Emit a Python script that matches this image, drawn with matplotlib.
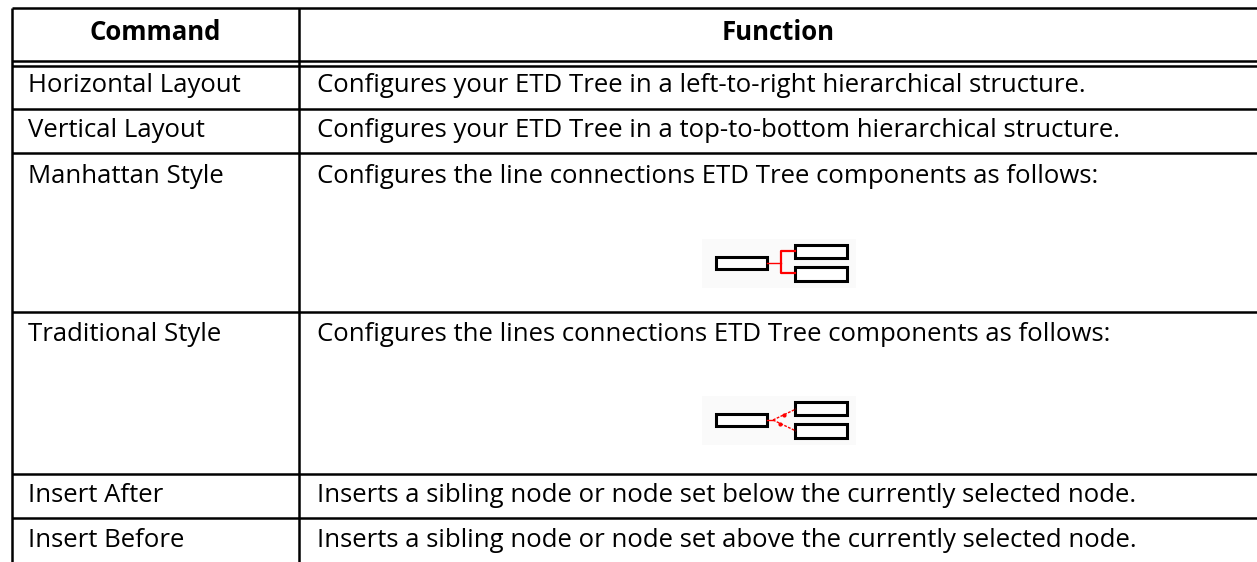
import matplotlib.pyplot as plt
from matplotlib.patches import Rectangle

# table content
headers = ["Command", "Function"]
commands = ["Horizontal Layout", "Vertical Layout", "Manhattan Style",
            "Traditional Style", "Insert After", "Insert Before"]
functions = [
    "Configures your ETD Tree in a left-to-right hierarchical structure.",
    "Configures your ETD Tree in a top-to-bottom hierarchical structure.",
    "Configures the line connections ETD Tree components as follows:",
    "Configures the lines connections ETD Tree components as follows:",
    "Inserts a sibling node or node set below the currently selected node.",
    "Inserts a sibling node or node set above the currently selected node.",
]

W, H = 1257, 562
fig = plt.figure(figsize=(W / 100, H / 100), dpi=100)
ax = fig.add_axes([0, 0, 1, 1])
ax.set_xlim(0, W)
ax.set_ylim(H, 0)
ax.axis('off')

plt.rcParams['font.family'] = ['Open Sans', 'DejaVu Sans']
fs = 18.5
lw = 1.8

# grid (pixel layout)
x_left, x_mid, x_right = 11.5, 299, 1258
y_top = 8
row_lines = [109, 153, 312, 474, 518]
ax.hlines(y_top, x_left, x_right, color='black', lw=lw)
ax.hlines([61, 66], x_left, x_right, color='black', lw=lw)
ax.hlines(row_lines, x_left, x_right, color='black', lw=lw)
ax.vlines([x_left, x_mid], y_top, H + 5, color='black', lw=lw)

# header
ax.text((x_left + x_mid) / 2, 40, headers[0], ha='center', va='baseline',
        fontsize=fs, fontweight='bold')
ax.text((x_mid + x_right) / 2, 40, headers[1], ha='center', va='baseline',
        fontsize=fs, fontweight='bold')

# rows
baselines = [92, 137, 183, 341, 502, 547]
for cmd, func, yb in zip(commands, functions, baselines):
    ax.text(28, yb, cmd, ha='left', va='baseline', fontsize=fs)
    ax.text(317, yb, func, ha='left', va='baseline', fontsize=fs)


# little tree icons
def tree_icon(x0, y0, style):
    ax.add_patch(Rectangle((x0, y0), 154, 49, facecolor='#fafafa', edgecolor='none'))
    bx = dict(facecolor='white', edgecolor='black', lw=2.2)
    ax.add_patch(Rectangle((x0 + 14, y0 + 18), 51, 12, **bx))
    ax.add_patch(Rectangle((x0 + 93, y0 + 6), 52, 13, **bx))
    ax.add_patch(Rectangle((x0 + 93, y0 + 28), 52, 14, **bx))
    if style == 'manhattan':
        ax.plot([x0 + 65, x0 + 79], [y0 + 24, y0 + 24], color='red', lw=1)
        ax.plot([x0 + 93, x0 + 79, x0 + 79, x0 + 93],
                [y0 + 12, y0 + 12, y0 + 34, y0 + 34], color='red', lw=1.6)
    else:
        ax.plot([x0 + 65, x0 + 71], [y0 + 24, y0 + 24], color='red', lw=1)
        ax.plot([x0 + 71, x0 + 94], [y0 + 24, y0 + 13], color='red', lw=1,
                ls=(0, (2, 1)))
        ax.plot([x0 + 71, x0 + 94], [y0 + 24, y0 + 35], color='red', lw=1,
                ls=(0, (2, 1)))
        ax.plot([x0 + 82, x0 + 78], [y0 + 19, y0 + 28], 'o', color='red', ms=2)


tree_icon(702, 239, 'manhattan')
tree_icon(702, 396, 'traditional')

fig.savefig('out.png', dpi=100, facecolor='white')
